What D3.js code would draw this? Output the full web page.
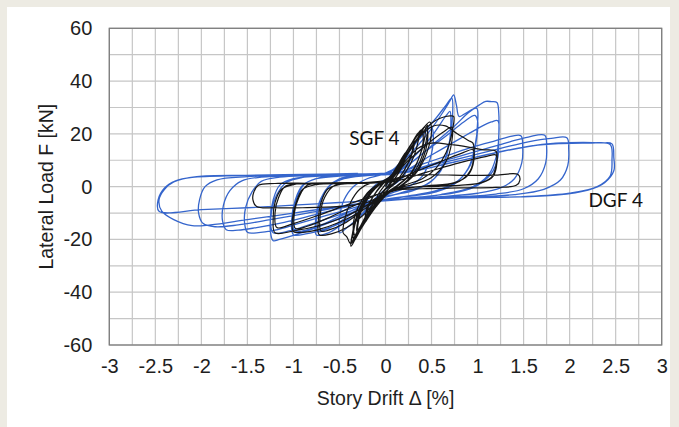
<!DOCTYPE html>
<html>
<head>
<meta charset="utf-8">
<script src="https://cdn.jsdelivr.net/npm/d3@7"></script>
<style>
  html, body { margin: 0; padding: 0; background: #edebe3; }
  svg { display: block; }
</style>
</head>
<body>
<svg id="chart" width="679" height="427"></svg>
<script>
// Hysteresis response of two shear-wall specimens: lateral load vs. story drift.
const xTicks = [-3, -2.5, -2, -1.5, -1, -0.5, 0, 0.5, 1, 1.5, 2, 2.5, 3];
const yTicks = [-60, -40, -20, 0, 20, 40, 60];
const xTitle = "Story Drift \u0394 [%]";
const yTitle = "Lateral Load F [kN]";

// DGF 4 — recorded loop path, [drift %, load kN]
const dgf4 = [
  [0,0],[0.1,5],[0.2,9.5],[0.26,12],[0.25,8],[0.2,4],[0.1,1],[0,-1],[-0.1,-4],[-0.2,-8],[-0.27,-10.5],[-0.25,-6],[-0.18,-2],[-0.08,1.5],[0.02,3],
  [0.12,7],[0.25,13],[0.38,18.5],[0.5,22.5],[0.52,18],[0.48,10],[0.4,4],[0.25,0],[0.1,-2],[-0.05,-4],[-0.15,-7],[-0.28,-11.5],[-0.4,-15],[-0.5,-17.5],[-0.5,-12],[-0.45,-5],[-0.35,0],[-0.2,3],[-0.05,4.5],
  [0.1,7],[0.25,13],[0.4,20],[0.55,26],[0.66,31],[0.72,33.5],[0.73,28],[0.7,18],[0.62,8],[0.5,2],[0.3,-1.5],[0.1,-3],[-0.1,-4.5],[-0.2,-7],[-0.35,-11],[-0.5,-15],[-0.62,-17.5],[-0.75,-18.3],[-0.76,-13],[-0.72,-6],[-0.62,0],[-0.5,3],[-0.3,4],[-0.1,4.5],
  [0.1,5],[0.3,11],[0.5,19],[0.66,27],[0.7,28.5],[0.71,24],[0.68,14],[0.6,6],[0.45,1],[0.2,-2],[0,-4],[-0.2,-6.5],[-0.4,-11],[-0.6,-15.5],[-0.74,-17],[-0.75,-12],[-0.7,-5],[-0.6,0.5],[-0.45,3],[-0.2,4.2],[0,4.8],
  [0.08,6],[0.2,10],[0.35,15.5],[0.5,22],[0.62,28],[0.7,32.5],[0.74,34.8],[0.77,31],[0.8,26.6],[0.88,28],[0.99,29.7],[1.0,24],[0.97,15],[0.9,7],[0.75,1],[0.55,-2],[0.3,-3.5],[0.05,-4.5],[-0.15,-6],[-0.3,-10],[-0.5,-14],[-0.7,-16.5],[-0.85,-17.8],[-1.0,-18.2],[-1.02,-13],[-0.98,-5],[-0.9,0.5],[-0.75,3],[-0.5,4],[-0.2,4.5],[0,5],
  [0.15,6],[0.4,12.5],[0.65,19],[0.85,24.5],[0.97,27],[1.0,25],[0.98,16],[0.92,8],[0.78,2],[0.55,-1.5],[0.25,-3.5],[0,-4.8],[-0.2,-6.5],[-0.45,-10.5],[-0.7,-14.5],[-0.9,-16.8],[-0.99,-16.5],[-1.0,-11],[-0.96,-4],[-0.88,1],[-0.7,3.5],[-0.4,4.3],[-0.1,4.8],
  [0.15,6],[0.35,11],[0.55,17],[0.75,23],[0.9,28],[1.02,31],[1.09,32.3],[1.15,32.2],[1.21,31.9],[1.23,28],[1.23,18],[1.22,11],[1.15,5],[1.0,0.5],[0.8,-2],[0.5,-3.5],[0.2,-4.5],[-0.05,-5.5],[-0.25,-8],[-0.5,-12],[-0.75,-15.5],[-1.0,-18.5],[-1.15,-20],[-1.22,-20.5],[-1.25,-17],[-1.24,-10],[-1.18,-3],[-1.08,1.5],[-0.9,3.5],[-0.6,4.2],[-0.3,4.5],[-0.05,5],
  [0.2,6],[0.5,12],[0.8,18],[1.0,22],[1.15,24.5],[1.22,25],[1.23,19],[1.2,11],[1.12,4.5],[0.95,0],[0.6,-3],[0.2,-4.5],[-0.1,-5.8],[-0.4,-9.5],[-0.75,-13.5],[-1.05,-16.8],[-1.22,-17.5],[-1.25,-13],[-1.22,-5],[-1.15,0.5],[-1.0,3],[-0.6,4.2],[-0.2,4.7],
  [0.15,5.5],[0.4,8.5],[0.65,11.5],[0.9,14.5],[1.15,17],[1.3,18.5],[1.47,19.3],[1.49,15],[1.48,9],[1.4,3],[1.25,-0.5],[1.0,-2.5],[0.6,-3.8],[0.2,-4.5],[-0.1,-5.5],[-0.35,-8],[-0.65,-11],[-0.95,-14],[-1.2,-16.5],[-1.4,-17.5],[-1.5,-17.3],[-1.53,-14],[-1.52,-8],[-1.45,-2],[-1.35,2],[-1.15,3.6],[-0.8,4.2],[-0.4,4.5],[-0.05,5],
  [0.2,5.5],[0.5,8.5],[0.8,11.5],[1.1,14.5],[1.35,17],[1.55,18.8],[1.73,19.5],[1.75,15],[1.74,9],[1.66,3],[1.5,-0.8],[1.2,-2.8],[0.8,-3.8],[0.3,-4.5],[-0.1,-5.5],[-0.4,-7.5],[-0.75,-10.5],[-1.1,-13.5],[-1.4,-15.5],[-1.6,-16.5],[-1.73,-16.3],[-1.77,-13],[-1.76,-7],[-1.69,-1.5],[-1.56,2.2],[-1.35,3.6],[-0.9,4.2],[-0.4,4.6],[-0.05,5],
  [0.2,5.5],[0.55,8.5],[0.9,11.5],[1.25,14.5],[1.55,17],[1.8,18.3],[1.97,18.5],[1.99,14],[1.98,8],[1.9,2.5],[1.72,-1],[1.4,-3],[0.9,-4],[0.4,-4.5],[-0.05,-5.5],[-0.45,-7.5],[-0.85,-10],[-1.25,-12.5],[-1.6,-14.5],[-1.85,-15.2],[-1.98,-14],[-2.03,-10],[-2.02,-5],[-1.96,0],[-1.83,2.6],[-1.5,3.8],[-1.0,4.3],[-0.5,4.6],[-0.05,5],
  [0.25,5.5],[0.7,9],[1.15,12.5],[1.55,15.3],[1.85,16.5],[2.15,16.8],[2.35,16.6],[2.46,16.2],[2.48,11],[2.48,6],[2.38,1.5],[2.2,-1.3],[1.85,-3.2],[1.3,-4],[0.6,-4.4],[0,-5],[-0.5,-6],[-1.0,-7],[-1.5,-8],[-2.0,-8.7],[-2.46,-9.3],[-2.47,-5],[-2.4,-0.5],[-2.28,2.2],[-2.1,3.5],[-1.6,4.2],[-1,4.5],[-0.4,4.8],[0,5],
  [0.3,5.8],[0.75,9.3],[1.2,12.8],[1.6,15.5],[1.9,16.3],[2.2,16.5],[2.44,16],[2.46,10],[2.44,4],[2.3,0],[2.0,-2.5],[1.5,-3.8],[0.8,-4.2],[0,-5.2],[-0.5,-7.5],[-1.0,-10],[-1.5,-12.5],[-1.9,-14.5],[-2.1,-14.8],[-2.3,-12.5],[-2.43,-9.3],[-2.46,-5],[-2.4,-1],[-2.3,1.8],[-2.05,3.8],[-1.5,4.3],[-0.9,4.6],[-0.3,5]
];

// SGF 4 — recorded loop path, [drift %, load kN]
const sgf4 = [
  [0,0],[0.05,3],[0.1,6],[0.08,3],[0.03,0.5],[-0.03,-2],[-0.1,-6],[-0.08,-3],[-0.02,0],
  [0.06,4],[0.14,8.5],[0.2,12],[0.18,8],[0.12,4],[0.04,0.5],[-0.05,-3],[-0.13,-7.5],[-0.2,-11.5],[-0.18,-7],[-0.12,-3],[-0.04,0.5],
  [0.07,4.5],[0.15,9],[0.22,13],[0.2,9],[0.14,5],[0.05,1],[-0.04,-2.5],[-0.14,-8],[-0.22,-12.5],[-0.2,-8],[-0.13,-3.5],[-0.05,0.5],
  [0.08,5],[0.18,10.5],[0.3,17],[0.28,12],[0.2,6],[0.1,1.5],[-0.02,-1.5],[-0.12,-6],[-0.22,-11.5],[-0.3,-16.5],[-0.28,-11],[-0.2,-5],[-0.1,0],
  [0.06,4],[0.17,10],[0.31,17.5],[0.29,12.5],[0.21,6.5],[0.11,2],[-0.01,-1.2],[-0.11,-5.5],[-0.21,-11],[-0.31,-17],[-0.29,-11.5],[-0.21,-5.5],[-0.11,-0.5],
  [0.04,3],[0.14,8.5],[0.26,15],[0.36,20.5],[0.34,15],[0.27,8.5],[0.16,3],[0.03,-1],[-0.08,-5],[-0.19,-10.5],[-0.29,-16],[-0.35,-19.5],[-0.33,-14],[-0.26,-7.5],[-0.15,-1.5],[-0.03,1.5],
  [0.05,3],[0.15,8],[0.25,13.5],[0.35,18.5],[0.45,23.5],[0.44,17],[0.38,10],[0.28,4],[0.15,0],[0,-3],[-0.12,-8],[-0.25,-15],[-0.33,-20],[-0.375,-22.6],[-0.36,-18],[-0.3,-11],[-0.2,-4],[-0.08,1],
  [0.07,4],[0.17,10],[0.28,16],[0.37,20.5],[0.43,22.5],[0.42,17.5],[0.36,10.5],[0.26,4.5],[0.12,0.3],[-0.02,-3.2],[-0.14,-8.5],[-0.26,-15],[-0.34,-19.5],[-0.37,-21.5],[-0.35,-16.5],[-0.28,-9.5],[-0.17,-3],[-0.05,1.2],
  [0.05,3.5],[0.15,9],[0.25,14.5],[0.35,19.5],[0.42,22.5],[0.48,24.5],[0.5,21],[0.45,13],[0.35,6],[0.2,1],[0.05,-2],[-0.08,-6],[-0.2,-12],[-0.3,-17.5],[-0.38,-21.5],[-0.42,-19],[-0.46,-17.5],[-0.44,-12],[-0.38,-6],[-0.28,-1],[-0.15,1.5],[0,2],
  [0.06,3.5],[0.16,9.5],[0.26,15],[0.36,20],[0.44,23],[0.46,19],[0.42,12],[0.32,5],[0.18,0.5],[0.03,-2.5],[-0.1,-7.5],[-0.22,-13.5],[-0.32,-19],[-0.36,-21],[-0.35,-16],[-0.29,-9],[-0.19,-2.5],[-0.06,1.5],
  [0.08,4.5],[0.19,11],[0.3,17],[0.39,21.5],[0.41,18],[0.37,11.5],[0.28,5],[0.14,0.5],[0.01,-2.8],[-0.12,-8],[-0.24,-14],[-0.33,-18.5],[-0.35,-14.5],[-0.3,-8],[-0.2,-2.5],[-0.08,1],
  [0.1,4.5],[0.2,10],[0.3,15.5],[0.4,20.5],[0.5,24],[0.6,26],[0.7,26.8],[0.74,26.6],[0.73,22],[0.66,13],[0.55,7],[0.4,3],[0.2,0.5],[0.05,-1.5],[-0.1,-5.5],[-0.25,-11],[-0.42,-15.5],[-0.58,-17.8],[-0.72,-18.2],[-0.73,-13],[-0.7,-6],[-0.63,-1],[-0.5,0.8],[-0.3,1.3],[-0.1,1.8],
  [0.05,3],[0.25,10],[0.45,16],[0.62,20.5],[0.72,22.5],[0.72,17],[0.65,9],[0.5,3.5],[0.3,0.8],[0.08,-1],[-0.05,-3.5],[-0.25,-9],[-0.45,-14],[-0.62,-16.5],[-0.7,-16.8],[-0.71,-11],[-0.66,-4],[-0.55,0.5],[-0.3,1.2],[-0.05,1.8],
  [0.1,5],[0.25,13],[0.4,20],[0.52,23],[0.65,23],[0.78,20],[0.9,17.5],[0.95,16.5],[0.96,12],[0.92,6],[0.8,2],[0.55,0.3],[0.3,-0.3],[0.08,-1.5],[-0.05,-4],[-0.25,-9],[-0.5,-13.5],[-0.75,-16.5],[-0.9,-17.3],[-1.0,-17],[-1.01,-12],[-0.97,-6],[-0.9,-1],[-0.75,0.8],[-0.45,1.2],[-0.15,1.5],
  [0.1,2.5],[0.35,6],[0.6,9.5],[0.85,13],[0.95,14],[0.96,10],[0.9,4.5],[0.75,1.5],[0.45,0.3],[0.15,-0.8],[-0.05,-2.5],[-0.3,-6.5],[-0.6,-11.5],[-0.85,-15],[-0.98,-15.8],[-0.99,-10],[-0.94,-4],[-0.85,0.5],[-0.6,1.2],[-0.2,1.5],
  [0.05,2.5],[0.2,9],[0.35,14.5],[0.5,16.5],[0.7,16],[0.9,15],[1.05,14],[1.2,13.4],[1.21,9],[1.17,4],[1.05,1.5],[0.8,0.5],[0.4,0],[0.1,-1],[-0.05,-3.5],[-0.2,-7],[-0.45,-11.5],[-0.75,-15],[-1.0,-16.8],[-1.2,-17.5],[-1.22,-12],[-1.2,-6],[-1.13,-1],[-1.0,0.8],[-0.6,1.2],[-0.2,1.5],
  [0.1,2],[0.45,5.5],[0.8,9],[1.1,11.5],[1.2,12],[1.2,8],[1.15,3.5],[1.0,1.2],[0.6,0.2],[0.2,-0.5],[-0.05,-2.5],[-0.35,-6],[-0.7,-10.5],[-1.0,-14],[-1.18,-15.5],[-1.2,-10],[-1.16,-4],[-1.08,0.3],[-0.8,1.1],[-0.3,1.4],
  [0.05,2.5],[0.2,4],[0.5,4.5],[0.9,4.3],[1.2,4.4],[1.44,4.6],[1.46,2.5],[1.42,0.5],[1.2,-0.3],[0.8,-0.5],[0.4,-0.8],[0.1,-1.5],[-0.05,-3.5],[-0.2,-6],[-0.5,-7.5],[-0.9,-8],[-1.2,-8],[-1.4,-7.5],[-1.44,-5],[-1.43,-2],[-1.38,0.5],[-1.2,1.2],[-0.8,1.3],[-0.4,1.5],[0,1.5]
];

const seriesLabels = [
  { text: "SGF 4", drift: -0.12, load: 15.8 },
  { text: "DGF 4", drift: 2.5, load: -7.7 }
];

const svg = d3.select("#chart");
const W = 679, H = 427;

// page frame: beige surround with white panel
svg.append("rect").attr("x", 0).attr("y", 0).attr("width", W).attr("height", H).attr("fill", "#edebe3");
svg.append("rect").attr("x", 7).attr("y", 7).attr("width", 663).attr("height", H - 7).attr("fill", "#ffffff");

const plot = { left: 109.3, right: 661.7, top: 28.3, bottom: 345 };
const x = d3.scaleLinear().domain([-3, 3]).range([plot.left, plot.right]);
const y = d3.scaleLinear().domain([-60, 60]).range([plot.bottom, plot.top]);

// grid every 0.25 % and every 10 kN
const gridX = d3.range(-3, 3.0001, 0.25);
const gridY = d3.range(-60, 60.0001, 10);
const grid = svg.append("g").attr("stroke", "#c6c6c6").attr("stroke-width", 1.2);
grid.selectAll("line.gx").data(gridX).join("line")
  .attr("x1", d => x(d)).attr("x2", d => x(d)).attr("y1", plot.top).attr("y2", plot.bottom);
grid.selectAll("line.gy").data(gridY).join("line")
  .attr("x1", plot.left).attr("x2", plot.right).attr("y1", d => y(d)).attr("y2", d => y(d));

svg.append("rect")
  .attr("x", plot.left).attr("y", plot.top)
  .attr("width", plot.right - plot.left).attr("height", plot.bottom - plot.top)
  .attr("fill", "none").attr("stroke", "#7d7d7d").attr("stroke-width", 1.3);

// hysteresis curves
const line = d3.line().x(d => x(d[0])).y(d => y(d[1])).curve(d3.curveCatmullRom.alpha(0.5));
svg.append("path").datum(dgf4).attr("d", line)
  .attr("fill", "none").attr("stroke", "#3565cc").attr("stroke-width", 1.3).attr("stroke-linejoin", "round");
svg.append("path").datum(sgf4).attr("d", line)
  .attr("fill", "none").attr("stroke", "#161616").attr("stroke-width", 1.2).attr("stroke-linejoin", "round");

// axes
const fontFamily = "'Liberation Sans', Arial, sans-serif";
const xAxis = d3.axisBottom(x).tickValues(xTicks).tickSize(0).tickPadding(14).tickFormat(d => String(d));
const yAxis = d3.axisLeft(y).tickValues(yTicks).tickSize(0).tickPadding(17).tickFormat(d => String(d));
const gx = svg.append("g").attr("transform", `translate(0,${plot.bottom})`).call(xAxis);
const gy = svg.append("g").attr("transform", `translate(${plot.left},0)`).call(yAxis);
[gx, gy].forEach(g => {
  g.select(".domain").remove();
  g.selectAll("text").attr("font-family", fontFamily).attr("font-size", 20).attr("fill", "#1e1e1e");
});

svg.append("text")
  .attr("x", (plot.left + plot.right) / 2).attr("y", 405)
  .attr("text-anchor", "middle").attr("font-family", fontFamily).attr("font-size", 19.5).attr("fill", "#1e1e1e")
  .text(xTitle);
svg.append("text")
  .attr("transform", `translate(53,${(plot.top + plot.bottom) / 2}) rotate(-90)`)
  .attr("text-anchor", "middle").attr("font-family", fontFamily).attr("font-size", 19.5).attr("fill", "#1e1e1e")
  .text(yTitle);

// series labels
svg.selectAll("text.series").data(seriesLabels).join("text")
  .attr("class", "series")
  .attr("x", d => x(d.drift)).attr("y", d => y(d.load))
  .attr("text-anchor", "middle").attr("font-family", "Lato, 'Open Sans', sans-serif").attr("font-size", 19)
  .attr("fill", "#111")
  .text(d => d.text);
</script>
</body>
</html>
